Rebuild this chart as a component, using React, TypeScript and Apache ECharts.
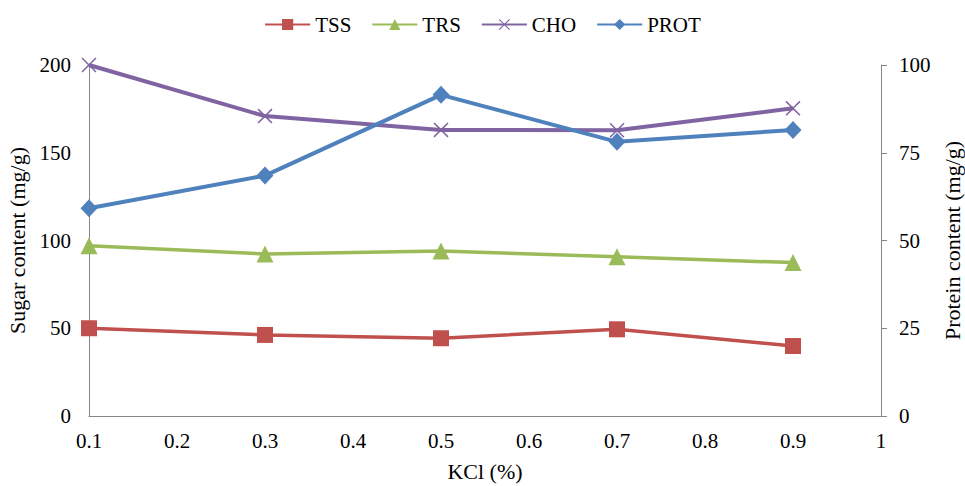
import React, { useEffect, useRef } from "react";
import * as echarts from "echarts";

const kcl = [0.1, 0.3, 0.5, 0.7, 0.9];
const tss = [50.0, 46.2, 44.3, 49.4, 39.9];
const trs = [97.0, 92.3, 94.0, 90.8, 87.4];
const cho = [200.0, 170.9, 163.0, 162.8, 175.3];
const prot = [59.2, 68.5, 91.5, 78.1, 81.5];

const FONT = "Liberation Serif, Times New Roman, serif";
const pts = (ys: number[]) => kcl.map((x, i) => [x, ys[i]]);

const crossPath =
  "path://M0,1L1,0L7,6L13,0L14,1L8,7L14,13L13,14L7,8L1,14L0,13L6,7Z";

export default function App() {
  const ref = useRef<HTMLDivElement>(null);
  useEffect(() => {
    if (!ref.current) return;
    const chart = echarts.init(ref.current, undefined, { renderer: "svg" });
    const axisLine = { show: true, lineStyle: { color: "#868686", width: 1 } };
    const labelStyle = { color: "#000", fontFamily: FONT, fontSize: 21 };
    const nameStyle = { color: "#000", fontFamily: FONT, fontSize: 22 };
    chart.setOption({
      animation: false,
      backgroundColor: "#fff",
      textStyle: { fontFamily: FONT },
      legend: {
        top: 9,
        left: "center",
        itemWidth: 45,
        itemHeight: 14,
        itemGap: 20,
        textStyle: { color: "#000", fontFamily: FONT, fontSize: 21 },
        data: ["TSS", "TRS", "CHO", "PROT"],
      },
      grid: {
        left: 89,
        right: 84,
        top: 65,
        bottom: 70,
        containLabel: false,
        outerBoundsMode: "none",
      },
      xAxis: {
        type: "value",
        min: 0.1,
        max: 1,
        interval: 0.1,
        name: "KCl (%)",
        nameLocation: "middle",
        nameGap: 44,
        nameTextStyle: nameStyle,
        axisLine,
        axisTick: { show: false },
        splitLine: { show: false },
        axisLabel: { ...labelStyle, margin: 14 },
      },
      yAxis: [
        {
          type: "value",
          min: 0,
          max: 200,
          interval: 50,
          name: "Sugar content (mg/g)",
          nameLocation: "middle",
          nameGap: 58,
          nameTextStyle: nameStyle,
          axisLine,
          axisTick: { show: false },
          splitLine: { show: false },
          axisLabel: { ...labelStyle, margin: 18 },
        },
        {
          type: "value",
          min: 0,
          max: 100,
          interval: 25,
          position: "right",
          name: "Protein content (mg/g)",
          nameLocation: "middle",
          nameGap: 58,
          nameTextStyle: nameStyle,
          axisLine,
          axisTick: { show: true, length: 6, lineStyle: { color: "#868686" } },
          splitLine: { show: false },
          axisLabel: { ...labelStyle, margin: 18 },
        },
      ],
      series: [
        {
          name: "TSS",
          type: "line",
          data: pts(tss),
          yAxisIndex: 0,
          symbol: "rect",
          symbolSize: 16,
          color: "#C0504D",
          lineStyle: { width: 3.5, color: "#C0504D" },
          itemStyle: { color: "#C0504D" },
        },
        {
          name: "TRS",
          type: "line",
          data: pts(trs),
          yAxisIndex: 0,
          symbol: "triangle",
          symbolSize: 17,
          color: "#9BBB59",
          lineStyle: { width: 3.5, color: "#9BBB59" },
          itemStyle: { color: "#9BBB59" },
        },
        {
          name: "CHO",
          type: "line",
          data: pts(cho),
          yAxisIndex: 0,
          symbol: crossPath,
          symbolSize: 15,
          color: "#8064A2",
          lineStyle: { width: 4, color: "#8064A2" },
          itemStyle: { color: "#8064A2" },
        },
        {
          name: "PROT",
          type: "line",
          data: pts(prot),
          yAxisIndex: 1,
          symbol: "diamond",
          symbolSize: [17, 18],
          color: "#4F81BD",
          lineStyle: { width: 4, color: "#4F81BD" },
          itemStyle: { color: "#4F81BD" },
        },
      ],
    });
    return () => chart.dispose();
  }, []);
  return (
    <div
      ref={ref}
      style={{ position: "absolute", left: 0, top: 0, width: 965, height: 486 }}
    />
  );
}
